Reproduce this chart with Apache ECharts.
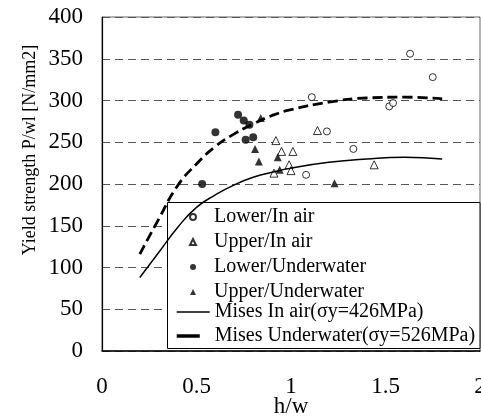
<!DOCTYPE html>
<html>
<head>
<meta charset="utf-8">
<script src="https://cdn.jsdelivr.net/npm/echarts@6/dist/echarts.min.js"></script>
<style>
html,body{margin:0;padding:0;background:#fff;}
#main{width:481px;height:416px;}
</style>
</head>
<body>
<div id="main"></div>
<script>
// Data
const xTicks = [0, 0.5, 1, 1.5, 2];
const yTicks = [0, 50, 100, 150, 200, 250, 300, 350, 400];

const lowerInAir = [[1.63,356],[1.75,328],[1.11,304],[1.52,293],[1.54,297],[1.19,263],[1.33,242],[1.08,211]];
const upperInAir = [[1.14,264],[0.92,252],[0.95,239],[1.01,239],[0.99,223],[1.00,216],[0.91,213],[1.44,223]];
const lowerUnderwater = [[0.72,283],[0.75,276],[0.78,271],[0.60,262],[0.76,253],[0.80,256],[0.53,200]];
const upperUnderwater = [[0.84,279],[0.81,242],[0.83,227],[0.93,232],[0.94,217],[1.23,201]];

const curveX = [0.2,0.3,0.4,0.5,0.6,0.7,0.8,0.9,1.0,1.2,1.4,1.6,1.8];
const misesAirY = [88,118,148,172,187,199,208,214,219,226,230,232,230];
const misesWaterY = [116,158,198,224,245,260,272,282,289,298,303,304,302];

const names = ['Lower/In air','Upper/In air','Lower/Underwater','Upper/Underwater',
  'Mises In air(\u03c3y=426MPa)','Mises Underwater(\u03c3y=526MPa)'];

const FONT = 'Liberation Serif';
const pair = (xs, ys) => xs.map((x, i) => [x, ys[i]]);
const hidden = {color: 'rgba(0,0,0,0)', borderColor: 'rgba(0,0,0,0)', borderWidth: 0};

const chart = echarts.init(document.getElementById('main'), null, {renderer: 'canvas'});
chart.setOption({
  animation: false,
  backgroundColor: '#fff',
  grid: {left: 102, right: 1, top: 17, bottom: 65, outerBoundsMode: 'none',
    show: true, borderColor: '#666', borderWidth: 1},
  xAxis: {
    type: 'value', min: 0, max: 2, interval: 0.5,
    name: 'h/w', nameLocation: 'middle', nameGap: 44, nameMoveOverlap: false,
    nameTextStyle: {fontFamily: FONT, fontSize: 23, color: '#000'},
    axisLine: {show: true, onZero: false, lineStyle: {color: '#000', width: 1.5}},
    axisTick: {show: false},
    splitLine: {show: false},
    axisLabel: {margin: 24, fontFamily: FONT, fontSize: 23, color: '#000',
      formatter: v => String(v)}
  },
  yAxis: {
    type: 'value', min: 0, max: 400, interval: 50,
    axisLine: {show: true, lineStyle: {color: '#000', width: 1.2}},
    axisTick: {show: false},
    splitLine: {show: true, lineStyle: {color: '#555', type: [8, 5], width: 1}},
    axisLabel: {margin: 19, fontFamily: FONT, fontSize: 23, color: '#000'}
  },
  graphic: [
    {type: 'text', x: 30, y: 150, rotation: Math.PI / 2,
      style: {text: 'Yield strength P/wl [N/mm2]', fontFamily: FONT, fontSize: 18, fill: '#000',
        align: 'center', verticalAlign: 'middle'}},
    {type: 'rect', z: 3, shape: {x: 167.5, y: 202.5, width: 312.5, height: 146},
      style: {fill: '#fff', stroke: '#000', lineWidth: 1}}
  ],
  legend: [
    {
      orient: 'vertical', left: 189, top: 207, padding: 0,
      itemWidth: 6, itemHeight: 6, itemGap: 5,
      textStyle: {fontFamily: FONT, fontSize: 20, color: '#000', padding: [0, 0, 0, 13]},
      data: names.slice(0, 4)
    },
    {
      orient: 'vertical', left: 175, top: 302, padding: 0,
      itemWidth: 33, itemHeight: 6, itemGap: 4,
      textStyle: {fontFamily: FONT, fontSize: 20, color: '#000'},
      data: [
        {name: names[4], itemStyle: hidden, lineStyle: {color: '#000', width: 1.5, type: 'solid'}},
        {name: names[5], itemStyle: hidden, lineStyle: {color: '#000', width: 3.5, type: [23, 30]}}
      ]
    }
  ],
  series: [
    {name: names[0], type: 'scatter', symbol: 'circle', symbolSize: 7, data: lowerInAir,
      itemStyle: {color: '#fff', borderColor: '#000', borderWidth: 1}},
    {name: names[1], type: 'scatter', symbol: 'triangle', symbolSize: 8, data: upperInAir,
      itemStyle: {color: '#fff', borderColor: '#000', borderWidth: 1}},
    {name: names[2], type: 'scatter', symbol: 'circle', symbolSize: 8, data: lowerUnderwater,
      itemStyle: {color: '#000'}},
    {name: names[3], type: 'scatter', symbol: 'triangle', symbolSize: 8, data: upperUnderwater,
      itemStyle: {color: '#000'}},
    {name: names[4], type: 'line', smooth: true, symbol: 'none', data: pair(curveX, misesAirY),
      lineStyle: {color: '#000', width: 1.5}, itemStyle: {color: '#000'}},
    {name: names[5], type: 'line', smooth: true, symbol: 'none', data: pair(curveX, misesWaterY),
      lineStyle: {color: '#000', width: 2.8, type: [10, 5]}, itemStyle: {color: '#000'}}
  ]
});
</script>
</body>
</html>
